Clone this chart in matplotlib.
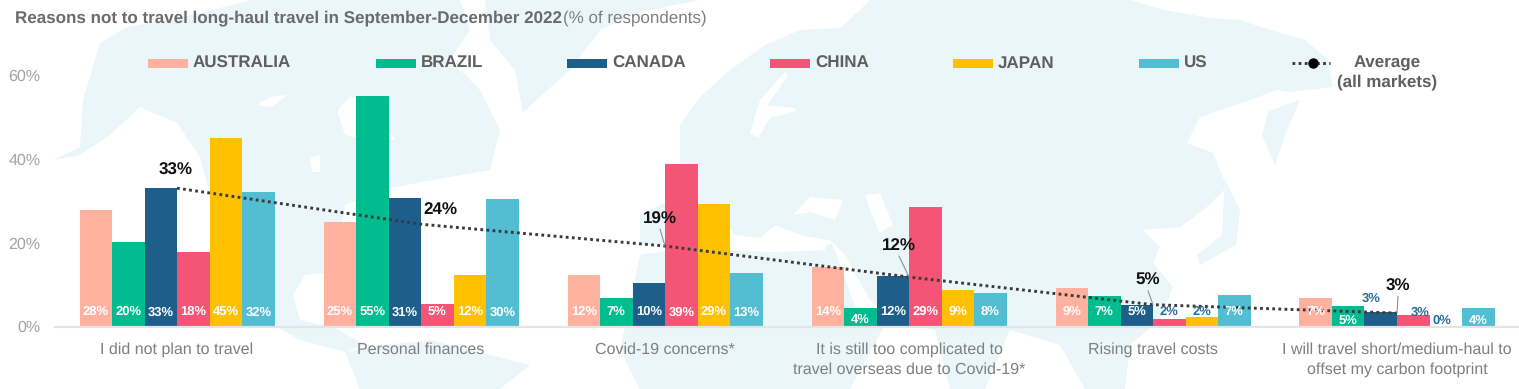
import matplotlib
matplotlib.use("Agg")
import matplotlib.pyplot as plt
from matplotlib.patches import Polygon, Rectangle
import numpy as np

plt.rcParams['font.family'] = ['Liberation Sans', 'DejaVu Sans']
plt.rcParams['text.hinting'] = 'no_hinting'
plt.rcParams['text.hinting_factor'] = 1

# ---- data ----
categories = ["I did not plan to travel", "Personal finances", "Covid-19 concerns*",
              "It is still too complicated to\ntravel overseas due to Covid-19*",
              "Rising travel costs",
              "I will travel short/medium-haul to\noffset my carbon footprint"]
australia = [27.8, 25.0, 12.2, 14.3, 9.1, 6.9]
brazil = [20.2, 55.0, 6.8, 4.4, 7.2, 4.8]
canada = [33.0, 30.6, 10.3, 12.1, 5.2, 3.4]
china = [17.8, 5.4, 38.7, 28.6, 1.9, 2.7]
japan = [45.0, 12.2, 29.2, 8.8, 2.2, 0.2]
us = [32.2, 30.4, 12.8, 8.1, 7.4, 4.4]
average = [33.0, 24.4, 19.2, 11.8, 5.2, 3.2]
series_names = ["AUSTRALIA", "BRAZIL", "CANADA", "CHINA", "JAPAN", "US"]
series_values = [australia, brazil, canada, china, japan, us]
y_ticks = [0, 20, 40, 60]

# ---- styles ----
colors = ["#FFB1A0", "#00BC8F", "#1D5F8A", "#F45476", "#FFC000", "#53BDD1"]
LAND = "#EAF6F9"
BLUE = "#2E6C9C"
W, H = 1519, 389
fig = plt.figure(figsize=(W / 100, H / 100), dpi=100, facecolor="white")

# decorative background world map, in figure pixels
bg = fig.add_axes([0, 0, 1, 1], zorder=0)
bg.set_xlim(0, W); bg.set_ylim(H, 0); bg.axis("off")
north_america = [(53,160),(80,147),(83,100),(100,43),(127,27),(180,18),(252,0),(460,0),(470,30),(450,60),
                 (480,90),(500,130),(490,170),(433,180),(380,190),(345,205),(335,265),(333,272),(305,275),
                 (293,295),(300,320),(335,328),(365,345),(345,352),(300,340),(277,327),(240,280),(213,207),
                 (200,157),(177,123),(140,107),(110,135),(80,155)]
greenland = [(485,0),(700,0),(640,12),(600,30),(570,70),(523,112),(515,70),(490,40)]
south_america = [(345,352),(385,345),(430,340),(470,350),(530,365),(500,389),(360,389)]
eurasia = [(640,245),(640,215),(670,200),(680,165),(680,125),(700,97),(730,70),(765,45),(800,30),(840,28),
           (860,10),(870,0),(1130,0),(1165,10),(1210,18),(1240,20),(1270,30),(1305,40),(1328,60),(1333,87),
           (1290,92),(1277,90),(1250,100),(1200,117),(1187,143),(1213,153),(1227,187),(1207,207),(1180,227),
           (1143,230),(1160,247),(1153,263),(1173,287),(1160,320),(1130,345),(1125,389),(1085,389),(1060,345),
           (1010,330),(985,389),(950,389),(935,330),(890,320),(870,300),(845,255),(830,240)]
africa = [(640,255),(675,250),(720,250),(770,252),(815,250),(832,243),(860,320),(885,325),(850,389),(640,389),(620,350)]
kamchatka = [(1268,112),(1285,105),(1300,100),(1285,135),(1275,165),(1262,135)]
japan_land = [(1225,180),(1240,210),(1236,245),(1200,265),(1197,255),(1222,235)]
for shape in (north_america, greenland, south_america, eurasia, africa, kamchatka, japan_land):
    bg.add_patch(Polygon(shape, closed=True, fc=LAND, ec="none"))
# inland seas and lakes
hudson = [(337,110),(350,97),(390,100),(385,125),(395,140),(370,140),(345,135)]
great_lakes = [(310,157),(320,155),(320,172),(312,172)]
bear_lake = [(257,105),(270,97),(287,95),(272,107)]
baltic = [(750,133),(760,100),(785,72),(788,76),(767,105),(795,108),(796,111),(770,118),(758,138)]
black_sea = [(793,215),(810,197),(843,200),(835,220),(810,212)]
caspian = [(865,195),(880,193),(893,225),(880,233),(872,215)]
med = [(650,248),(690,230),(720,215),(735,235),(760,238),(775,225),(800,235),(827,240),(825,250),(780,252),(720,250),(680,250)]
for shape in (hudson, great_lakes, bear_lake, baltic, black_sea, caspian, med):
    bg.add_patch(Polygon(shape, closed=True, fc="white", ec="none"))

# main chart
x0, x1, y0, y1 = 55, 1519, 326.5, 75
ax = fig.add_axes([x0 / W, 1 - y0 / H, (x1 - x0) / W, (y0 - y1) / H], zorder=1)
ax.patch.set_alpha(0)
pos = np.arange(len(categories))
bar_w = 32.5 / 244
label_override = {(1, 3): (0, 7.5, "white"), (1, 5): (0, 9, "white"), (5, 5): (0, 9, "white"),
                  (3, 4): (0, 0, BLUE), (4, 4): (0, 0, BLUE),
                  (2, 5): (-10, -14, BLUE), (3, 5): (7, 0, BLUE), (4, 5): (-4, 9, BLUE)}
for s, (vals, col) in enumerate(zip(series_values, colors)):
    offs = pos + (s - 2.5) * bar_w
    ax.bar(offs, vals, width=bar_w, color=col, lw=0, zorder=2)
    for g, v in enumerate(vals):
        dx, dy, tc = label_override.get((s, g), (0, 0, "white"))
        ax.annotate(f"{round(v)}%", (offs[g], 0), xytext=(dx, 14.5 - dy), textcoords="offset pixels",
                    ha="center", va="center", fontsize=9.5, fontweight="bold", color=tc, zorder=5,
                    annotation_clip=False)

ax.plot(pos, average, color="#3A3A3A", lw=2.1, ls=(0, (0.95, 1.15)), zorder=4)

avg_offsets = [(-1, 18), (19, 14), (-5, 27), (-10, 31), (-5, 24), (1, 27)]
for g, v in enumerate(average):
    dx, dy = avg_offsets[g]
    ax.annotate(f"{round(v)}%", (pos[g], v), xytext=(dx, dy), textcoords="offset pixels",
                ha="center", va="center", fontsize=12, fontweight="bold", color="#111111", zorder=6)
    if g >= 2:
        ax.annotate("", (pos[g], v), xytext=(dx, dy - 10), textcoords="offset pixels",
                    arrowprops=dict(arrowstyle="-", color="#909090", lw=0.8, shrinkA=0, shrinkB=0), zorder=6)

ax.set_xlim(-0.5, 5.5)
ax.set_ylim(0, 60)
ax.set_yticks(y_ticks)
ax.set_yticklabels([f"{t}%" for t in y_ticks], fontsize=11.5, color="#A3A3A3")
ax.set_xticks(pos)
ax.set_xticklabels(categories, fontsize=11.6, color="#7F7F7F", linespacing=1.4)
ax.tick_params(axis="y", length=0, pad=10.5)
ax.tick_params(axis="x", length=0, pad=11.5)
for sp in ("top", "left", "right"):
    ax.spines[sp].set_visible(False)
ax.spines["bottom"].set_color("#E4E4E4")
ax.spines["bottom"].set_linewidth(1.6)

# overlay in figure pixels: title and legend
ov = fig.add_axes([0, 0, 1, 1], zorder=2)
ov.set_xlim(0, W); ov.set_ylim(H, 0); ov.axis("off")
ov.text(15, 18, "Reasons not to travel long-haul travel in September-December 2022", fontsize=12.0,
        fontweight="bold", color="#6B6B6B", va="center", ha="left")
ov.text(563, 18, "(% of respondents)", fontsize=12.0, color="#7F7F7F", va="center", ha="left")
swatch_x = [148, 376, 567, 770, 953, 1139]
for name, col, sx in zip(series_names, colors, swatch_x):
    ov.add_patch(Rectangle((sx, 58.5), 40, 9.5, fc=col, ec="none"))
    ov.text(sx + 45, 63, name, fontsize=12.0, fontweight="bold", color="#5F5F5F", va="center", ha="left")
ov.plot([1292, 1330], [63, 63], color="#3A3A3A", lw=2.1, ls=(0, (0.95, 1.15)))
ov.plot([1313], [63], marker="o", ms=7.5, color="black", mec="none")
ov.text(1387, 63, "Average", fontsize=12.0, fontweight="bold", color="#5F5F5F", va="center", ha="center")
ov.text(1387, 82, "(all markets)", fontsize=12.0, fontweight="bold", color="#5F5F5F", va="center", ha="center")

fig.savefig("out.png", dpi=100)
